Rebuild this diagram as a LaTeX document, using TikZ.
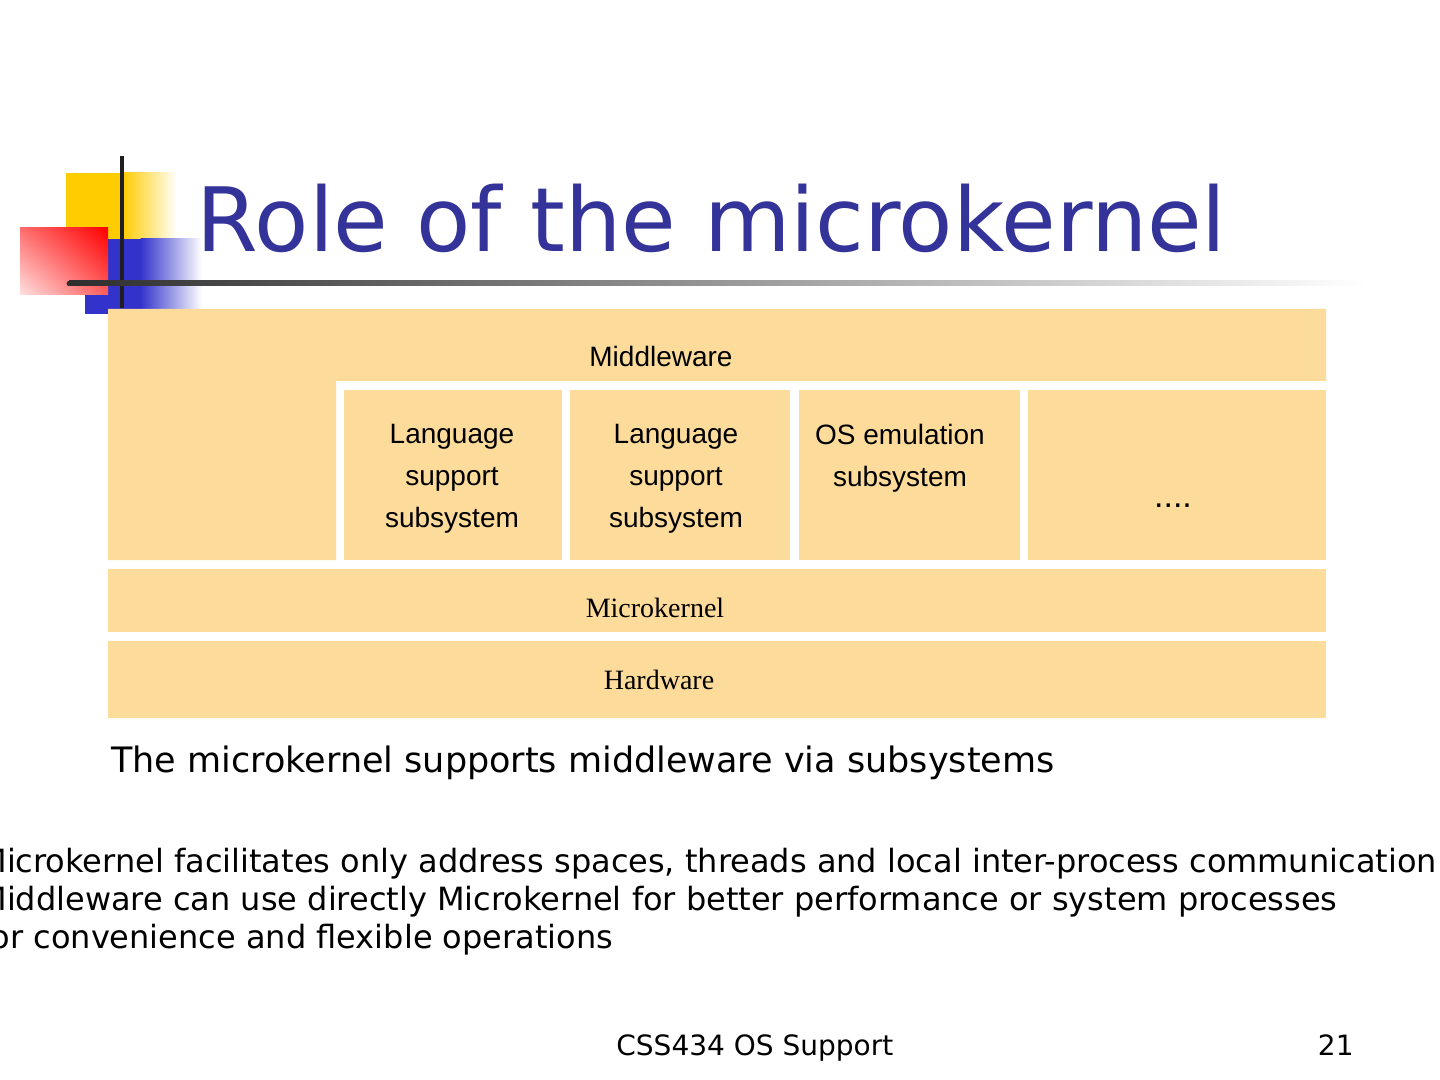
\documentclass[tikz,border=0pt]{standalone}
\usepackage{fontspec}
\usetikzlibrary{shadings}
\setmainfont{DejaVu Sans}
\newfontfamily\arialf{Liberation Sans}
\newfontfamily\timesf{Liberation Serif}
\definecolor{boxfill}{RGB}{253,219,155}
\definecolor{titleblue}{RGB}{51,51,153}
\definecolor{logoyellow}{RGB}{255,204,0}
\definecolor{logoblue}{RGB}{51,51,204}
\definecolor{logored}{RGB}{255,0,0}
\definecolor{redul}{RGB}{255,110,110}
\definecolor{redll}{RGB}{255,225,225}
\definecolor{redlr}{RGB}{255,95,95}
\begin{document}
\begin{tikzpicture}[x=0.5pt,y=-0.5pt,
  layerbox/.style={fill=boxfill, draw=none, inner sep=0pt, anchor=north west},
  sanstext/.style={inner sep=0pt, font=\arialf\fontsize{14pt}{21pt}\selectfont, align=center},
  seriftext/.style={inner sep=0pt, font=\timesf\fontsize{14pt}{17pt}\selectfont},
  bodytext/.style={inner sep=0pt, anchor=base west, font=\fontsize{16pt}{19pt}\selectfont}]
\useasboundingbox (0,0) rectangle (1440,1080);
\clip (0,0) rectangle (1440,1080);
\fill[white] (0,0) rectangle (1440,1080);
% logo
\fill[logoyellow] (66,173) rectangle (123,240);
\shade[left color=logoyellow, right color=white] (122.5,173) rectangle (177,240);
\fill[logoblue] (85,239) rectangle (141,314);
\shade[left color=logoblue, right color=white] (140.5,239) rectangle (202,314);
\shade[upper left=redul, upper right=logored, lower left=redll, lower right=redlr]
       (20,228) rectangle (108,295);
\draw[line width=2pt, black!88] (122,156) -- (122,308);
\shade[left color=black!82, right color=white] (69,281) rectangle (1365,286);
\fill[black!82] (69,283.5) circle (1.25pt);
% title
\node[inner sep=0pt, anchor=base west, text=titleblue, font=\fontsize{44.4pt}{50pt}\selectfont] (title) at (196.5,252) {Role of the microkernel};
% middleware band
\fill[boxfill] (108,309) -- (1326,309) -- (1326,381) -- (336,381) -- (336,560) -- (108,560) -- cycle;
\node[sanstext, anchor=base] (mw) at (661,367) {Middleware};
% subsystems
\node[layerbox, minimum width=109pt, minimum height=85pt] (ls1) at (344,390) {};
\node[layerbox, minimum width=110pt, minimum height=85pt] (ls2) at (570,390) {};
\node[layerbox, minimum width=110.5pt, minimum height=85pt] (ose) at (799,390) {};
\node[layerbox, minimum width=149pt, minimum height=85pt] (more) at (1028,390) {};
\node[sanstext, anchor=north] (ls1t) at (452,424) {Language\\support\\subsystem};
\node[sanstext, anchor=north] (ls2t) at (676,424) {Language\\support\\subsystem};
\node[sanstext, anchor=north] (oset) at (900,424) {OS emulation\\subsystem};
\node[sanstext, anchor=base, font=\arialf\fontsize{17pt}{21pt}\selectfont] (moret) at (1173,508) {....};
% microkernel and hardware
\node[layerbox, minimum width=609pt, minimum height=31.5pt] (mk) at (108,569) {};
\node[layerbox, minimum width=609pt, minimum height=38.5pt] (hw) at (108,641) {};
\node[seriftext, anchor=base] (mkt) at (655,617) {Microkernel};
\node[seriftext, anchor=base] (hwt) at (659,689) {Hardware};
% texts
\node[inner sep=0pt, anchor=base west, font=\fontsize{17.5pt}{21pt}\selectfont] (sub) at (111,772) {The microkernel supports middleware via subsystems};
\node[bodytext] (l1) at (-21,872) {Microkernel facilitates only address spaces, threads and local inter-process communication};
\node[bodytext] (l2) at (-21,910) {Middleware can use directly Microkernel for better performance or system processes};
\node[bodytext] (l3) at (-21,948) {for convenience and flexible operations};
\node[inner sep=0pt, anchor=base west, font=\fontsize{14pt}{17pt}\selectfont] (foot) at (616,1055) {CSS434 OS Support};
\node[inner sep=0pt, anchor=base east, font=\fontsize{14pt}{17pt}\selectfont] (page) at (1354,1055) {21};
\end{tikzpicture}
\end{document}
